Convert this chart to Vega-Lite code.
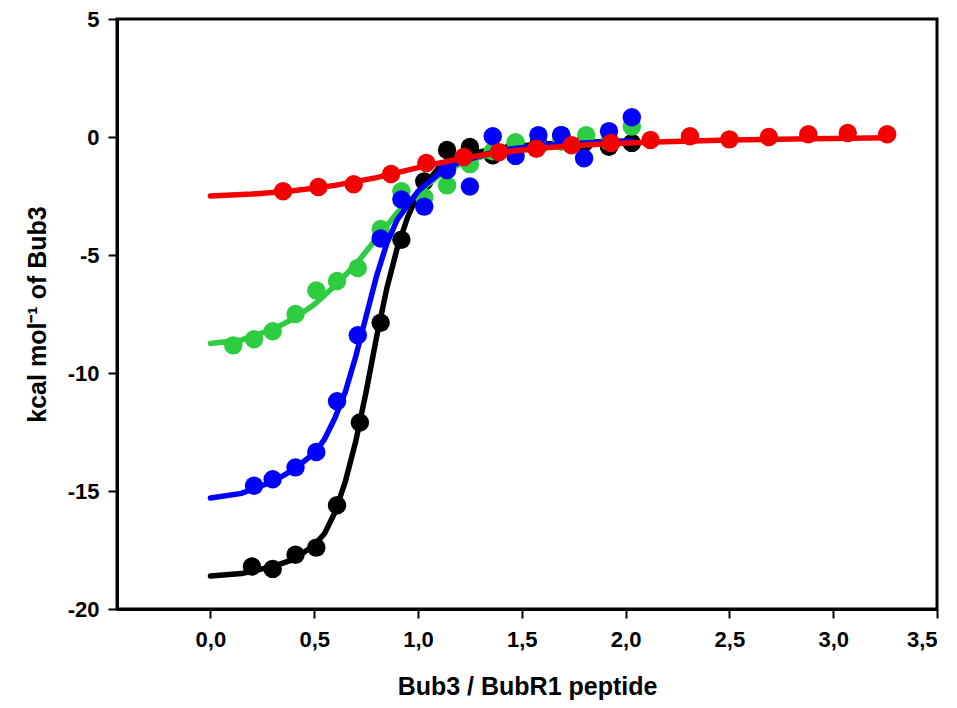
{
  "$schema": "https://vega.github.io/schema/vega-lite/v6.json",
  "autosize": "none",
  "width": 820,
  "height": 590,
  "padding": {"left": 117, "top": 19, "right": 20, "bottom": 99},
  "background": "white",
  "config": {
    "view": {"stroke": "black", "strokeWidth": 3},
    "axis": {
      "grid": false,
      "domainColor": "black",
      "domainWidth": 3,
      "tickColor": "black",
      "tickWidth": 2,
      "tickSize": 9,
      "labelFont": "Liberation Sans",
      "labelFontWeight": "bold",
      "labelFontSize": 22,
      "labelColor": "black",
      "titleFont": "Liberation Sans",
      "titleFontWeight": "bold",
      "titleFontSize": 25,
      "titleColor": "black"
    }
  },
  "datasets": {
    "pts": [
      {"series": "black", "x": 0.20, "y": -18.2},
      {"series": "black", "x": 0.30, "y": -18.3},
      {"series": "black", "x": 0.41, "y": -17.7},
      {"series": "black", "x": 0.51, "y": -17.4},
      {"series": "black", "x": 0.61, "y": -15.6},
      {"series": "black", "x": 0.72, "y": -12.1},
      {"series": "black", "x": 0.82, "y": -7.87},
      {"series": "black", "x": 0.92, "y": -4.35},
      {"series": "black", "x": 1.03, "y": -1.88},
      {"series": "black", "x": 1.14, "y": -0.55},
      {"series": "black", "x": 1.25, "y": -0.42},
      {"series": "black", "x": 1.36, "y": -0.77},
      {"series": "black", "x": 1.47, "y": -0.35},
      {"series": "black", "x": 1.58, "y": -0.3},
      {"series": "black", "x": 1.69, "y": 0.08},
      {"series": "black", "x": 1.80, "y": -0.25},
      {"series": "black", "x": 1.92, "y": -0.41},
      {"series": "black", "x": 2.03, "y": -0.25},
      {"series": "green", "x": 0.11, "y": -8.83},
      {"series": "green", "x": 0.21, "y": -8.57},
      {"series": "green", "x": 0.30, "y": -8.23},
      {"series": "green", "x": 0.41, "y": -7.5},
      {"series": "green", "x": 0.51, "y": -6.5},
      {"series": "green", "x": 0.61, "y": -6.1},
      {"series": "green", "x": 0.71, "y": -5.55},
      {"series": "green", "x": 0.82, "y": -3.9},
      {"series": "green", "x": 0.92, "y": -2.3},
      {"series": "green", "x": 1.03, "y": -2.55},
      {"series": "green", "x": 1.14, "y": -2.05},
      {"series": "green", "x": 1.25, "y": -1.15},
      {"series": "green", "x": 1.36, "y": -0.6},
      {"series": "green", "x": 1.47, "y": -0.22},
      {"series": "green", "x": 1.58, "y": -0.4},
      {"series": "green", "x": 1.69, "y": -0.2},
      {"series": "green", "x": 1.81, "y": 0.08},
      {"series": "green", "x": 1.92, "y": -0.2},
      {"series": "green", "x": 2.03, "y": 0.44},
      {"series": "blue", "x": 0.21, "y": -14.78},
      {"series": "blue", "x": 0.30, "y": -14.5},
      {"series": "blue", "x": 0.41, "y": -14.0},
      {"series": "blue", "x": 0.51, "y": -13.35},
      {"series": "blue", "x": 0.61, "y": -11.2},
      {"series": "blue", "x": 0.71, "y": -8.4},
      {"series": "blue", "x": 0.82, "y": -4.3},
      {"series": "blue", "x": 0.92, "y": -2.65},
      {"series": "blue", "x": 1.03, "y": -2.95},
      {"series": "blue", "x": 1.14, "y": -1.4},
      {"series": "blue", "x": 1.25, "y": -2.1},
      {"series": "blue", "x": 1.36, "y": 0.03},
      {"series": "blue", "x": 1.47, "y": -0.8},
      {"series": "blue", "x": 1.58, "y": 0.08},
      {"series": "blue", "x": 1.69, "y": 0.08},
      {"series": "blue", "x": 1.80, "y": -0.9},
      {"series": "blue", "x": 1.92, "y": 0.25},
      {"series": "blue", "x": 2.03, "y": 0.84},
      {"series": "red", "x": 0.35, "y": -2.3},
      {"series": "red", "x": 0.52, "y": -2.12},
      {"series": "red", "x": 0.69, "y": -2.0},
      {"series": "red", "x": 0.87, "y": -1.57},
      {"series": "red", "x": 1.04, "y": -1.1},
      {"series": "red", "x": 1.22, "y": -0.85},
      {"series": "red", "x": 1.39, "y": -0.64},
      {"series": "red", "x": 1.57, "y": -0.5},
      {"series": "red", "x": 1.74, "y": -0.35},
      {"series": "red", "x": 1.93, "y": -0.25},
      {"series": "red", "x": 2.12, "y": -0.13},
      {"series": "red", "x": 2.31, "y": 0.03},
      {"series": "red", "x": 2.50, "y": -0.1},
      {"series": "red", "x": 2.69, "y": 0.0},
      {"series": "red", "x": 2.88, "y": 0.12},
      {"series": "red", "x": 3.07, "y": 0.17},
      {"series": "red", "x": 3.26, "y": 0.12}
    ],
    "fit": [
      {"series": "black", "x": 0.0, "y": -18.6},
      {"series": "black", "x": 0.15, "y": -18.5},
      {"series": "black", "x": 0.3, "y": -18.2},
      {"series": "black", "x": 0.4, "y": -17.9},
      {"series": "black", "x": 0.5, "y": -17.3},
      {"series": "black", "x": 0.55, "y": -16.8},
      {"series": "black", "x": 0.6, "y": -15.9},
      {"series": "black", "x": 0.65, "y": -14.6},
      {"series": "black", "x": 0.7, "y": -12.9},
      {"series": "black", "x": 0.75, "y": -10.8},
      {"series": "black", "x": 0.8, "y": -8.5},
      {"series": "black", "x": 0.85, "y": -6.4},
      {"series": "black", "x": 0.9, "y": -4.7},
      {"series": "black", "x": 0.95, "y": -3.4},
      {"series": "black", "x": 1.0, "y": -2.4},
      {"series": "black", "x": 1.1, "y": -1.3},
      {"series": "black", "x": 1.2, "y": -0.8},
      {"series": "black", "x": 1.4, "y": -0.45},
      {"series": "black", "x": 1.6, "y": -0.3},
      {"series": "black", "x": 1.8, "y": -0.22},
      {"series": "black", "x": 2.03, "y": -0.17},
      {"series": "green", "x": 0.0, "y": -8.75},
      {"series": "green", "x": 0.15, "y": -8.6},
      {"series": "green", "x": 0.3, "y": -8.15},
      {"series": "green", "x": 0.4, "y": -7.7},
      {"series": "green", "x": 0.5, "y": -7.1},
      {"series": "green", "x": 0.6, "y": -6.3},
      {"series": "green", "x": 0.7, "y": -5.4},
      {"series": "green", "x": 0.8, "y": -4.3},
      {"series": "green", "x": 0.9, "y": -3.2},
      {"series": "green", "x": 1.0, "y": -2.35},
      {"series": "green", "x": 1.1, "y": -1.65},
      {"series": "green", "x": 1.2, "y": -1.15},
      {"series": "green", "x": 1.3, "y": -0.85},
      {"series": "green", "x": 1.45, "y": -0.55},
      {"series": "green", "x": 1.6, "y": -0.38},
      {"series": "green", "x": 1.8, "y": -0.27},
      {"series": "green", "x": 2.03, "y": -0.2},
      {"series": "blue", "x": 0.0, "y": -15.3},
      {"series": "blue", "x": 0.15, "y": -15.1},
      {"series": "blue", "x": 0.3, "y": -14.6},
      {"series": "blue", "x": 0.4, "y": -14.1},
      {"series": "blue", "x": 0.5, "y": -13.4},
      {"series": "blue", "x": 0.55, "y": -12.8},
      {"series": "blue", "x": 0.6, "y": -11.9},
      {"series": "blue", "x": 0.65, "y": -10.8},
      {"series": "blue", "x": 0.7, "y": -9.3},
      {"series": "blue", "x": 0.75, "y": -7.6},
      {"series": "blue", "x": 0.8, "y": -5.9},
      {"series": "blue", "x": 0.85, "y": -4.5},
      {"series": "blue", "x": 0.9, "y": -3.5},
      {"series": "blue", "x": 1.0, "y": -2.3},
      {"series": "blue", "x": 1.1, "y": -1.55},
      {"series": "blue", "x": 1.2, "y": -1.05},
      {"series": "blue", "x": 1.4, "y": -0.55},
      {"series": "blue", "x": 1.6, "y": -0.35},
      {"series": "blue", "x": 1.8, "y": -0.25},
      {"series": "blue", "x": 2.03, "y": -0.17},
      {"series": "red", "x": 0.0, "y": -2.5},
      {"series": "red", "x": 0.2, "y": -2.42},
      {"series": "red", "x": 0.4, "y": -2.28},
      {"series": "red", "x": 0.6, "y": -2.05},
      {"series": "red", "x": 0.8, "y": -1.72},
      {"series": "red", "x": 1.0, "y": -1.3},
      {"series": "red", "x": 1.2, "y": -0.92},
      {"series": "red", "x": 1.4, "y": -0.65},
      {"series": "red", "x": 1.6, "y": -0.47},
      {"series": "red", "x": 1.8, "y": -0.34},
      {"series": "red", "x": 2.1, "y": -0.22},
      {"series": "red", "x": 2.5, "y": -0.13},
      {"series": "red", "x": 2.9, "y": -0.07},
      {"series": "red", "x": 3.27, "y": -0.03}
    ]
  },
  "encoding": {
    "x": {
      "field": "x", "type": "quantitative",
      "scale": {"domain": [-0.45, 3.5], "nice": false, "zero": false},
      "axis": {
        "title": "Bub3 / BubR1 peptide",
        "values": [0, 0.5, 1, 1.5, 2, 2.5, 3, 3.5],
        "labelExpr": "replace(format(datum.value, '.1f'), '.', ',')",
        "labelPadding": 11,
        "titlePadding": 24
      }
    },
    "y": {
      "field": "y", "type": "quantitative",
      "scale": {"domain": [-20, 5], "nice": false, "zero": false},
      "axis": {
        "title": "kcal mol⁻¹ of Bub3",
        "values": [-20, -15, -10, -5, 0, 5],
        "labelExpr": "datum.value < 0 ? '-' + abs(datum.value) : '' + datum.value",
        "labelPadding": 9,
        "titlePadding": 17
      }
    },
    "color": {
      "field": "series", "type": "nominal", "legend": null,
      "scale": {"domain": ["black", "green", "blue", "red"], "range": ["#000000", "#2ecc40", "#0000ff", "#f50000"]}
    }
  },
  "layer": [
    {"data": {"name": "fit"}, "transform": [{"filter": "datum.series == 'black'"}], "mark": {"type": "line", "strokeWidth": 5.5, "strokeCap": "round"}},
    {"data": {"name": "pts"}, "transform": [{"filter": "datum.series == 'black'"}], "mark": {"type": "circle", "size": 340, "opacity": 1}},
    {"data": {"name": "fit"}, "transform": [{"filter": "datum.series == 'green'"}], "mark": {"type": "line", "strokeWidth": 5.5, "strokeCap": "round"}},
    {"data": {"name": "pts"}, "transform": [{"filter": "datum.series == 'green'"}], "mark": {"type": "circle", "size": 340, "opacity": 1}},
    {"data": {"name": "fit"}, "transform": [{"filter": "datum.series == 'blue'"}], "mark": {"type": "line", "strokeWidth": 5.5, "strokeCap": "round"}},
    {"data": {"name": "pts"}, "transform": [{"filter": "datum.series == 'blue'"}], "mark": {"type": "circle", "size": 340, "opacity": 1}},
    {"data": {"name": "fit"}, "transform": [{"filter": "datum.series == 'red'"}], "mark": {"type": "line", "strokeWidth": 5.5, "strokeCap": "round"}},
    {"data": {"name": "pts"}, "transform": [{"filter": "datum.series == 'red'"}], "mark": {"type": "circle", "size": 340, "opacity": 1}}
  ]
}
